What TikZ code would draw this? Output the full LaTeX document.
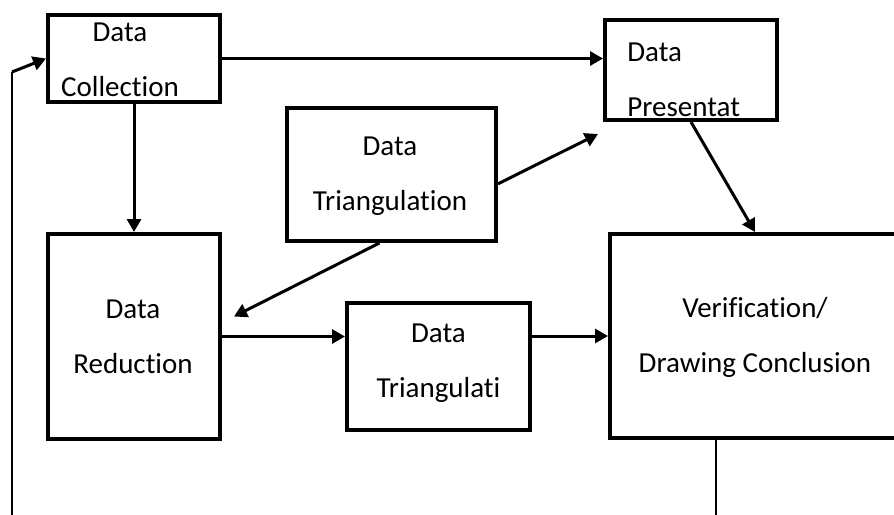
\documentclass[tikz,border=0pt]{standalone}
\usepackage{fontspec}
\setmainfont{Carlito}[Ligatures={NoCommon}]
\usetikzlibrary{arrows.meta,calc}
\tikzset{
    box/.style={draw, line width=2pt, inner sep=0pt},
    txt/.style={font=\fontsize{14.5}{27.5}\selectfont, align=center, inner sep=0pt},
    link/.style={line width=1.5pt, ->},
    back/.style={line width=1pt},
}

\begin{document}
\begin{tikzpicture}[x=0.5pt, y=-0.5pt, >={Triangle[length=6.5pt,width=7pt]}]
    \clip (0, 0) rectangle (894, 514);
    % boxes
    \node [box, minimum width=86pt, minimum height=43.5pt] (col) at (134, 58.5) {};
    \node [box, minimum width=86pt, minimum height=50pt] (pres) at (691, 70) {};
    \node [box, minimum width=104.5pt, minimum height=66.5pt] (tri) at (391.5, 174.5) {};
    \node [box, minimum width=86pt, minimum height=102.5pt] (red) at (134, 336.5) {};
    \node [box, minimum width=91.5pt, minimum height=63.5pt] (tri2) at (438.5, 366.5) {};
    \node [box, minimum width=145pt, minimum height=102pt] (ver) at (755, 336) {};
    % texts
    \node [txt] (col-t) at (120, 60) {Data\\Collection};
    \node [txt, align=left, anchor=west] (pres-t) at (627, 80) {Data\\Presentat};
    \node [txt] (tri-t) at (390, 176) {Data\\Triangulation};
    \node [txt] (red-t) at (133, 336.5) {Data\\Reduction};
    \node [txt] (tri2-t) at (438.5, 363.5) {Data\\Triangulati};
    \node [txt] (ver-t) at (755, 337) {Verification/\\Drawing Conclusion};
    % arrows
    \draw [link] (col.east) -- (col.east -| pres.west);
    \draw [link] (col) -- (red);
    \draw [link] (tri.-5) -- ($(pres.south west) + (-5, 12)$);
    \draw [link] (tri.-100) -- ($(red.east) + (12, -20)$);
    \draw [link] (red.east) -- (red.east -| tri2.west);
    \draw [link] (ver.west -| tri2.east) -- (ver.west);
    \draw [link] (pres.south) -- (ver.north);
    % feedback
    \coordinate (fb) at (12, 72);
    \coordinate (fb-b) at (12, 530);
    \draw [back] ([xshift=-19.5pt]ver.south) |- (fb-b) -- (fb);
    \draw [link] (fb) -- (col.west);
\end{tikzpicture}
\end{document}
